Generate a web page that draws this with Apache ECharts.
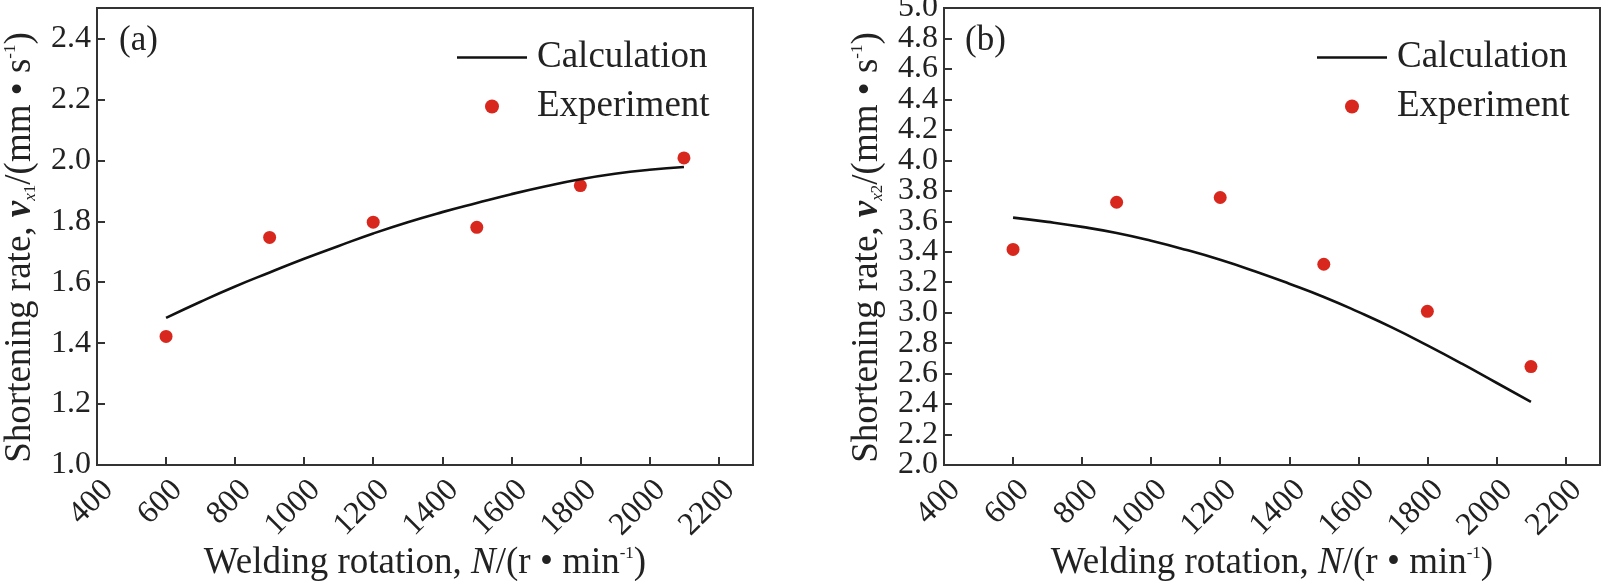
<!DOCTYPE html>
<html>
<head>
<meta charset="utf-8">
<script src="https://cdn.jsdelivr.net/npm/echarts@6/dist/echarts.min.js"></script>
<style>
html,body{margin:0;padding:0;background:#fff;}
#c{width:1602px;height:581px;}
</style>
</head>
<body>
<div id="c"></div>
<script>
// Panel (a)
const calcN = [600,700,800,900,1000,1100,1200,1300,1400,1500,1600,1700,1800,1900,2000,2100];
const calcA = [1.483,1.536,1.586,1.632,1.677,1.719,1.760,1.797,1.830,1.860,1.889,1.915,1.938,1.956,1.969,1.978];
const expN = [600,900,1200,1500,1800,2100];
const expA = [1.422,1.747,1.797,1.780,1.917,2.008];
// Panel (b)
const calcB = [3.624,3.596,3.563,3.523,3.472,3.413,3.347,3.272,3.190,3.103,3.005,2.900,2.785,2.665,2.540,2.415];
const expB = [3.415,3.725,3.756,3.318,3.009,2.646];

const FONT = '"Liberation Serif", "Times New Roman", Times, serif';
const TXT = '#222';
const AX = '#333';

function pairs(xs, ys){ return xs.map((x,i)=>[x, ys[i]]); }

function yName(sub){
  return '{n|Shortening rate, }{v|v}{si|x}{s|' + sub + '}{n|/(mm • s}{p|-1}{n|)}';
}
const yRich = {
  n:{fontSize:37,fontFamily:FONT,color:TXT},
  v:{fontSize:37,fontFamily:FONT,fontStyle:'italic',fontWeight:'bold',color:TXT},
  si:{fontSize:17,fontFamily:FONT,fontStyle:'italic',color:TXT,verticalAlign:'bottom'},
  s:{fontSize:17,fontFamily:FONT,color:TXT,verticalAlign:'bottom'},
  p:{fontSize:17,fontFamily:FONT,color:TXT,verticalAlign:'top'}
};
const xRich = {
  n:{fontSize:37,fontFamily:FONT,color:TXT},
  i:{fontSize:37,fontFamily:FONT,fontStyle:'italic',color:TXT},
  p:{fontSize:17,fontFamily:FONT,color:TXT,verticalAlign:'top'}
};
const tickRich = {t:{fontSize:32,lineHeight:20,height:20,fontFamily:FONT,color:TXT}};

function xAxis(idx){
  return {
    type:'value', gridIndex:idx, min:400, max:2300, interval:200,
    name:'{n|Welding rotation, }{i|N}{n|/(r • min}{p|-1}{n|)}',
    nameLocation:'middle', nameGap:80, nameMoveOverlap:false,
    nameTextStyle:{rich:xRich},
    axisLine:{show:true,lineStyle:{color:AX,width:2}},
    axisTick:{show:true,inside:true,length:8,lineStyle:{color:AX,width:2}},
    axisLabel:{rotate:45,fontSize:32,fontFamily:FONT,color:TXT,margin:9,
      align:'right',verticalAlign:'top',showMaxLabel:false,
      hideOverlap:false, formatter:v=>String(v)},
    splitLine:{show:false}
  };
}
function yAxis(idx,min,max,sub,showMin,showMax){
  return {
    type:'value', gridIndex:idx, position:'left', min:min, max:max, interval:0.2,
    name:yName(sub), nameLocation:'middle', nameGap:58, nameRotate:90, nameMoveOverlap:false,
    nameTextStyle:{rich:yRich, padding:[0,22,0,0]},
    axisLine:{show:true,lineStyle:{color:AX,width:2}},
    axisTick:{show:true,inside:true,length:8,lineStyle:{color:AX,width:2}},
    axisLabel:{margin:6,showMinLabel:showMin,showMaxLabel:showMax,hideOverlap:false,
      formatter:v=>'{t|' + v.toFixed(1) + '}', rich:tickRich},
    splitLine:{show:false}
  };
}
// overlay axis on panel (b) that only prints the two end labels (2.0 and 5.0)
function yEnds(idx,min,max){
  return {
    type:'value', gridIndex:idx, position:'left', offset:0, min:min, max:max, interval:1,
    axisLine:{show:false}, axisTick:{show:false}, splitLine:{show:false},
    axisLabel:{margin:6,hideOverlap:false,showMinLabel:true,showMaxLabel:true,
      formatter:v=>(Math.abs(v-min)<1e-6||Math.abs(v-max)<1e-6)?'{t|' + v.toFixed(1) + '}':'',
      rich:tickRich}
  };
}
function legend(left){
  return {
    orient:'vertical', left:left, top:34, itemWidth:70, itemHeight:14, itemGap:12,
    symbolKeepAspect:true,
    formatter:n=>'{t|' + n + '}',
    textStyle:{fontSize:37,fontFamily:FONT,color:TXT,
      rich:{t:{fontSize:37,fontFamily:FONT,color:TXT,padding:[0,0,0,5]}}},
    selectedMode:false,
    data:[
      {name:'Calculation', icon:'path://M0,0L70,0L70,2.6L0,2.6Z'},
      {name:'Experiment', icon:'circle'}
    ]
  };
}

const chart = echarts.init(document.getElementById('c'), null, {renderer:'canvas'});
chart.setOption({
  animation:false,
  backgroundColor:'#fff',
  title:[
    {text:'(a)', left:114, top:18, textStyle:{fontSize:35,fontWeight:'normal',fontFamily:FONT,color:TXT}},
    {text:'(b)', left:960, top:18, textStyle:{fontSize:35,fontWeight:'normal',fontFamily:FONT,color:TXT}}
  ],
  legend:[legend(452), legend(1312)],
  grid:[
    {left:97, top:8, width:656, height:457, show:true, borderColor:AX, borderWidth:2, outerBoundsMode:'none', containLabel:false},
    {left:944, top:8, width:656, height:457, show:true, borderColor:AX, borderWidth:2, outerBoundsMode:'none', containLabel:false}
  ],
  xAxis:[xAxis(0), xAxis(1)],
  yAxis:[yAxis(0,1.0,2.5,'1',true,false), yAxis(1,2.0,5.0,'2',false,false), yEnds(1,2.0,5.0)],
  series:[
    {name:'Calculation', type:'line', xAxisIndex:0, yAxisIndex:0, data:pairs(calcN,calcA),
      smooth:true, showSymbol:false, symbol:'none', lineStyle:{color:'#111',width:2.6}, itemStyle:{color:'#111'}},
    {name:'Experiment', type:'scatter', xAxisIndex:0, yAxisIndex:0, data:pairs(expN,expA),
      symbol:'circle', symbolSize:13, itemStyle:{color:'#d8281e',opacity:1}},
    {name:'Calculation', type:'line', xAxisIndex:1, yAxisIndex:1, data:pairs(calcN,calcB),
      smooth:true, showSymbol:false, symbol:'none', lineStyle:{color:'#111',width:2.6}, itemStyle:{color:'#111'}},
    {name:'Experiment', type:'scatter', xAxisIndex:1, yAxisIndex:1, data:pairs(expN,expB),
      symbol:'circle', symbolSize:13, itemStyle:{color:'#d8281e',opacity:1}}
  ]
});
</script>
</body>
</html>
